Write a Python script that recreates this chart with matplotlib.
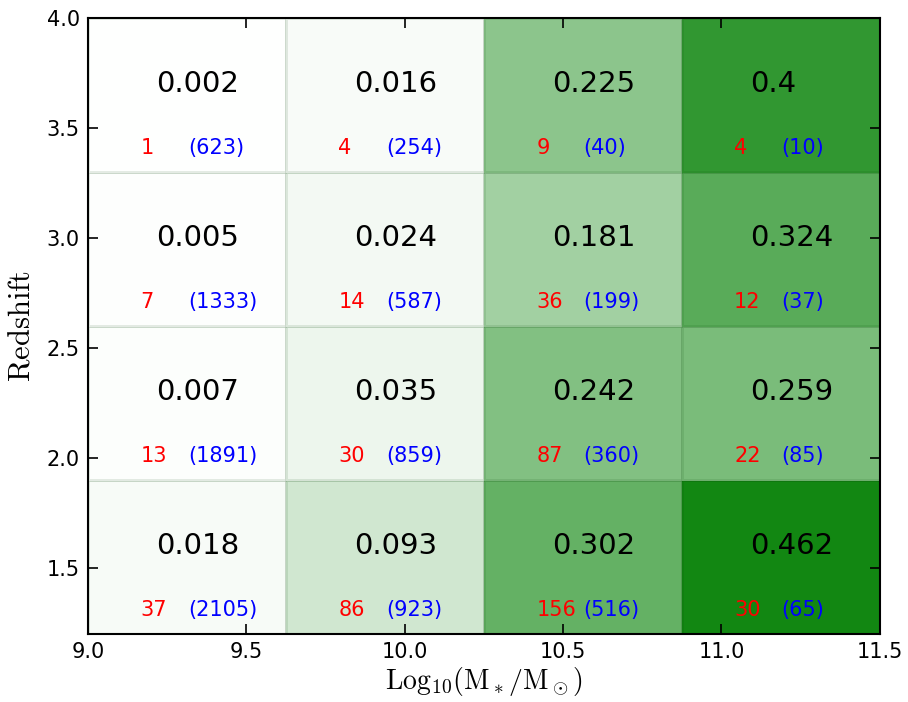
import matplotlib
matplotlib.use("Agg")
import matplotlib.pyplot as plt
import numpy as np
from matplotlib.colors import LinearSegmentedColormap

# bin edges
mass_edges = [9.0, 9.625, 10.25, 10.875, 11.5]
z_edges = [1.2, 1.9, 2.6, 3.3, 4.0]

# rows from low to high redshift, columns from low to high mass
fraction = [
    [0.018, 0.093, 0.302, 0.462],
    [0.007, 0.035, 0.242, 0.259],
    [0.005, 0.024, 0.181, 0.324],
    [0.002, 0.016, 0.225, 0.4],
]
n_selected = [
    [37, 86, 156, 30],
    [13, 30, 87, 22],
    [7, 14, 36, 12],
    [1, 4, 9, 4],
]
n_total = [
    [2105, 923, 516, 65],
    [1891, 859, 360, 85],
    [1333, 587, 199, 37],
    [623, 254, 40, 10],
]

plt.rcParams["mathtext.fontset"] = "cm"

cmap = LinearSegmentedColormap.from_list("wg", ["white", (0.07, 0.53, 0.07)])

fig = plt.figure(figsize=(9.08, 7.02), dpi=100)
ax = fig.add_axes([0.097, 0.097, 0.872, 0.877])

frac = np.array(fraction)
ax.pcolormesh(mass_edges, z_edges, frac, cmap=cmap, vmin=0, vmax=frac.max(),
              edgecolors=(0.0, 0.25, 0.0, 0.1), linewidth=0.8)

for i in range(len(z_edges) - 1):
    for j in range(len(mass_edges) - 1):
        x0 = mass_edges[j]
        y0 = z_edges[i]
        ax.text(x0 + 0.215, y0 + 0.40, f"{fraction[i][j]:g}", fontsize=21,
                ha="left", va="center", color="black")
        ax.text(x0 + 0.165, y0 + 0.11, f"{n_selected[i][j]}", fontsize=15,
                ha="left", va="center", color="red")
        ax.text(x0 + 0.315, y0 + 0.11, f"({n_total[i][j]})", fontsize=15,
                ha="left", va="center", color="blue")

ax.set_xlim(9.0, 11.5)
ax.set_ylim(1.2, 4.0)
ax.set_xticks([9.0, 9.5, 10.0, 10.5, 11.0, 11.5])
ax.set_yticks([1.5, 2.0, 2.5, 3.0, 3.5, 4.0])
ax.tick_params(direction="in", length=7, width=1.2, labelsize=15,
               top=True, right=True, pad=6)
for s in ax.spines.values():
    s.set_linewidth(1.5)

ax.set_xlabel(r"$\mathrm{Log_{10}(M_*/M_\odot)}$", fontsize=20, labelpad=2)
ax.set_ylabel(r"$\mathrm{Redshift}$", fontsize=22, labelpad=8)

fig.savefig("out.png", dpi=100)
